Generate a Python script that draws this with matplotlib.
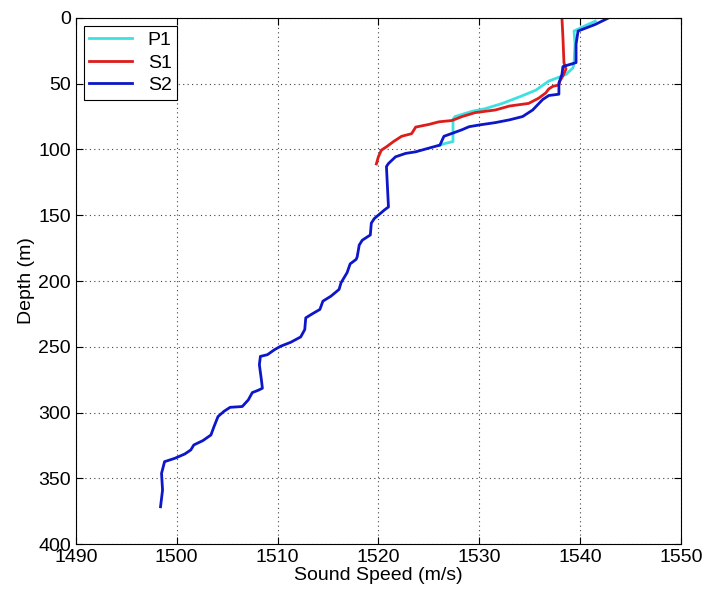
#!/usr/bin/env python3
"""Sound speed profiles P1 / S1 / S2 versus depth."""

import matplotlib
matplotlib.use('Agg')
import matplotlib.pyplot as plt

plt.rcParams['font.family'] = ['Liberation Sans', 'DejaVu Sans']

# ── data (sound speed m/s, depth m) ──
p1_speed = [1541.5, 1540.5, 1539.4, 1539.5, 1539.4, 1539.3, 1538.6, 1537.6,
            1536.9, 1535.6, 1534.0, 1532.3, 1530.6, 1529.3, 1527.6, 1527.4,
            1527.4, 1527.4, 1526.6, 1526.0]
p1_depth = [2.5, 6, 10, 20, 34, 38, 43, 46,
            48, 55, 60, 65, 69, 71, 75, 77,
            85, 94, 95.5, 97]

s1_speed = [1538.2, 1538.3, 1538.4, 1538.6, 1538.3, 1538.0, 1537.9, 1537.3,
            1536.9, 1536.6, 1535.9, 1534.9, 1533.0, 1531.6, 1529.6, 1528.3,
            1527.3, 1526.0, 1525.0, 1523.7, 1523.3, 1522.3, 1521.5, 1520.8,
            1520.3, 1520.0, 1519.8]
s1_depth = [0, 15, 34, 39, 44, 48, 51, 52,
            54, 57, 61, 65, 67, 70, 72, 75,
            78, 79, 81, 83, 88, 90, 94, 98,
            100.5, 105.6, 111]

s2_speed = [1542.7, 1541.5, 1539.8, 1539.6, 1539.6, 1538.3, 1538.2, 1537.9,
            1537.9, 1536.9, 1536.3, 1535.3, 1534.3, 1533.0, 1531.6, 1530.0,
            1529.0, 1528.3, 1527.3, 1526.5, 1526.1, 1525.0, 1523.7, 1522.7,
            1521.7, 1521.0, 1520.8, 1520.9, 1521.0, 1520.6, 1519.6, 1519.3,
            1519.2, 1518.4, 1518.1, 1517.9, 1517.8, 1517.2, 1516.9, 1516.3,
            1516.1, 1515.3, 1514.5, 1514.2, 1513.5, 1512.8, 1512.7, 1512.3,
            1511.3, 1510.3, 1509.7, 1509.0, 1508.3, 1508.2, 1508.4, 1508.5,
            1508.1, 1507.5, 1507.1, 1506.5, 1505.3, 1504.7, 1504.1, 1503.7,
            1503.4, 1502.6, 1501.7, 1501.4, 1500.8, 1499.8, 1498.8, 1498.5,
            1498.6, 1498.4]
s2_depth = [0.5, 5, 10, 20, 34, 37, 43, 49.5,
            58, 59, 62, 70, 75, 77.5, 79.6, 81.4,
            82.7, 85, 87.8, 90, 96.7, 99, 101.8, 103,
            105.6, 110.7, 113, 128.6, 143.7, 146, 152.5, 156,
            165, 169, 172.7, 181.6, 183.5, 187, 193.6, 201.3,
            206.4, 211.5, 215.3, 221.6, 224.7, 228, 236.9, 242.5,
            246.6, 249.6, 252.2, 256, 257.3, 263.6, 275, 281.5,
            283, 284.8, 290.4, 295.4, 296, 299, 303, 310.7,
            317, 321.3, 324.6, 328.4, 331.5, 334.8, 337.3, 346.2,
            358.9, 371.6]

labels = ['P1', 'S1', 'S2']
colors = ['#3fe0e0', '#dd1c1c', '#0d16c8']

fig = plt.figure(figsize=(7.02, 5.96), dpi=100)
ax = fig.add_axes([0.108, 0.087, 0.862, 0.883])

ax.plot(p1_speed, p1_depth, color=colors[0], lw=2, label=labels[0])
ax.plot(s1_speed, s1_depth, color=colors[1], lw=2, label=labels[1])
ax.plot(s2_speed, s2_depth, color=colors[2], lw=2, label=labels[2])

ax.set_xlim(1490, 1550)
ax.set_ylim(400, 0)
ax.set_xticks(range(1490, 1551, 10))
ax.set_yticks(range(0, 401, 50))
ax.tick_params(direction='in', top=True, right=True, labelsize=14, length=5)
ax.grid(True, color='#444444', linestyle=(0, (1, 3)), lw=0.8)

ax.set_xlabel('Sound Speed (m/s)', fontsize=14, labelpad=1)
ax.set_ylabel('Depth (m)', fontsize=14, labelpad=2)

leg = ax.legend(loc='upper left', fontsize=14, fancybox=False,
                edgecolor='black', framealpha=1, handlelength=2.2,
                borderaxespad=0.4, labelspacing=0.25, borderpad=0.3)
leg.get_frame().set_linewidth(0.8)

fig.savefig('out.png', dpi=100, facecolor='white')
